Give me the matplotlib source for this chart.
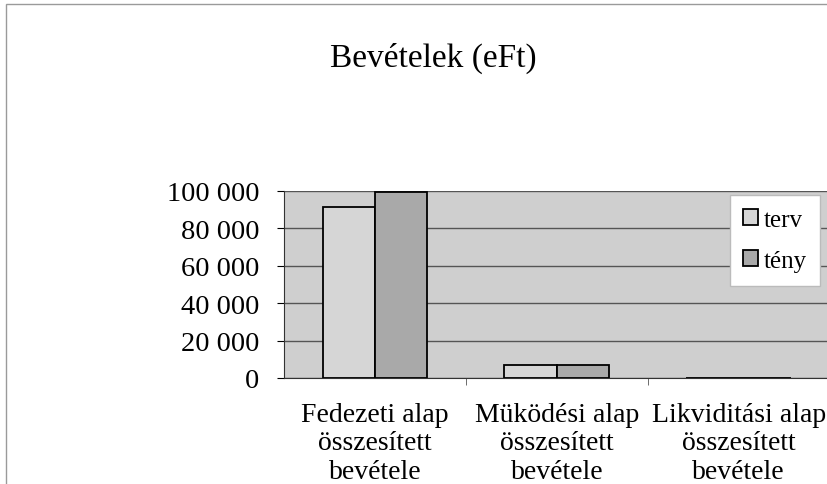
import matplotlib
matplotlib.use('Agg')
import matplotlib.pyplot as plt
import numpy as np
from matplotlib.patches import Rectangle
from matplotlib.ticker import FuncFormatter

categories = ['Fedezeti alap\nösszesített\nbevétele',
              'Müködési alap\nösszesített\nbevétele',
              'Likviditási alap\nösszesített\nbevétele']
terv = [91500, 7100, 250]
teny = [99400, 6900, 250]
series_names = ['terv', 'tény']

plt.rcParams['font.family'] = ['Liberation Serif', 'DejaVu Serif']

fig = plt.figure(figsize=(8.28, 4.85), dpi=100)
fig.patches.append(Rectangle((0.007, -0.1), 1.1, 1.09, transform=fig.transFigure,
                             fill=False, edgecolor='#9a9a9a', linewidth=1))

ax = fig.add_axes([0.343, 0.2186, 0.659, 0.3861])
ax.set_facecolor('#cfcfcf')

x = np.arange(len(categories))
w = 0.288
ax.bar(x - w / 2, terv, w, color='#d6d6d6', edgecolor='black', linewidth=1.3,
       label=series_names[0], zorder=3)
ax.bar(x + w / 2, teny, w, color='#a9a9a9', edgecolor='black', linewidth=1.3,
       label=series_names[1], zorder=3)

ax.set_xlim(-0.5, 2.5)
ax.set_ylim(0, 100000)
ax.set_yticks(np.arange(0, 100001, 20000))
ax.yaxis.set_major_formatter(FuncFormatter(lambda v, p: f'{int(v):,}'.replace(',', ' ')))
ax.yaxis.grid(True, color='#555555', linewidth=1, zorder=1)
ax.set_axisbelow(True)

ax.set_xticks(x)
ax.set_xticklabels(categories, fontsize=20, linespacing=1.2)
ax.set_xticks([0.5, 1.5, 2.5], minor=True)
ax.tick_params(axis='x', which='major', length=0, pad=17)
ax.tick_params(axis='x', which='minor', length=5, direction='out', color='#555555')
ax.tick_params(axis='y', labelsize=20.5, length=5, direction='out', pad=13)

for s in ['top', 'right']:
    ax.spines[s].set_visible(False)
ax.spines['left'].set_color('#333333')
ax.spines['bottom'].set_color('#333333')

leg = ax.legend(loc='upper left', bbox_to_anchor=(0.8165, 0.975), fontsize=18,
                frameon=True, fancybox=False, framealpha=1, edgecolor='#bbbbbb',
                handlelength=0.6, handleheight=0.6, handletextpad=0.2,
                labelspacing=0.75, borderpad=0.55, borderaxespad=0)

fig.text(0.5236, 0.88, 'Bevételek (eFt)', ha='center', va='center', fontsize=24)

fig.savefig('out.png', dpi=100)
